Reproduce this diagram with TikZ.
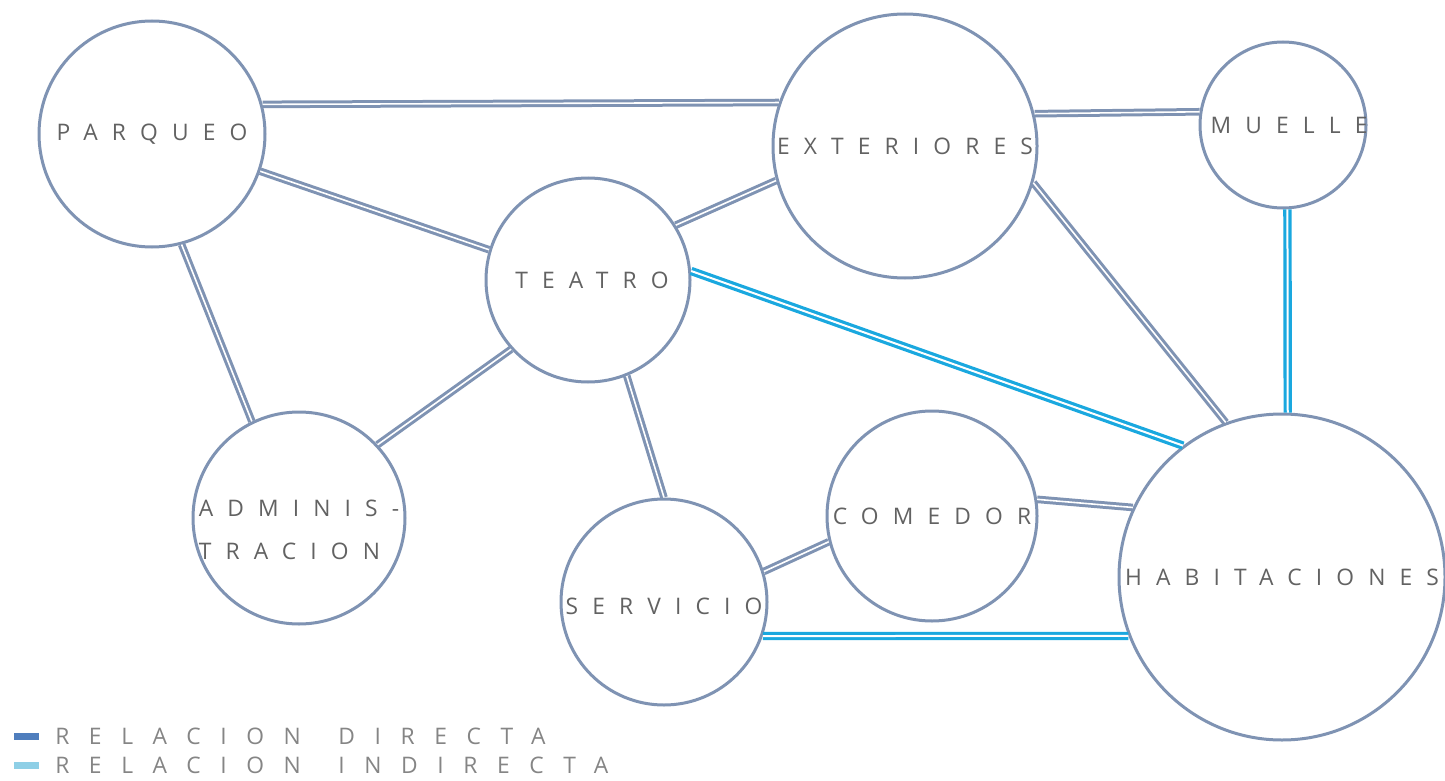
\documentclass[tikz,border=0pt]{standalone}
\usepackage{fontspec}
\setmainfont{Open Sans}
\usepackage{tikz}
\usetikzlibrary{positioning}
\definecolor{ringGrey}{HTML}{7F93B3}
\definecolor{linkCyan}{HTML}{1AA8DF}
\definecolor{labelGrey}{HTML}{626262}
\definecolor{legendGrey}{HTML}{858585}
\definecolor{keyBlue}{HTML}{4F7EBD}
\definecolor{keyCyan}{HTML}{8ECFE6}
\newfontfamily\spaced[LetterSpace=62]{Open Sans}
\newfontfamily\widespaced[LetterSpace=86]{Open Sans}

\begin{document}
\begin{tikzpicture}[
    x=0.5pt,y=-0.5pt,
    zone/.style={circle,draw=ringGrey,line width=1.5pt,fill=white,
      minimum size=#1,inner sep=0pt},
    tag/.style={font=\spaced\fontsize{11.4}{21.5}\selectfont,text=labelGrey,inner sep=0pt},
    direct/.style={draw=ringGrey,line width=1.5pt,double=white,double distance=0.8pt},
    indirect/.style={draw=linkCyan,line width=1.6pt,double=white,double distance=1pt},
    keybar/.style={minimum width=12.5pt,minimum height=3.5pt,inner sep=0pt},
    keytext/.style={font=\widespaced\fontsize{11.4}{13}\selectfont,text=legendGrey,inner sep=0pt}
  ]
    \useasboundingbox (0,0) rectangle (1445,781);

    % zonas
    \node[zone=113pt,label={[tag]center:PARQUEO}] (parqueo) at (152,134) {};
    \node[zone=132pt,label={[tag]center:EXTERIORES}] (exteriores) at (905,146) {};
    \node[zone=83pt,label={[tag,xshift=3pt]center:MUELLE}] (muelle) at (1283,125) {};
    \node[zone=102pt,label={[tag,xshift=2pt]center:TEATRO}] (teatro) at (588,280) {};
    \node[zone=106pt,label={[tag,align=left,yshift=-6pt]center:ADMINIS-\\TRACION}] (admin) at (299,518) {};
    \node[zone=105pt,label={[tag]center:COMEDOR}] (comedor) at (932,516) {};
    \node[zone=103pt,label={[tag,yshift=-2pt]center:SERVICIO}] (servicio) at (664,602) {};
    \node[zone=163pt,label={[tag]center:HABITACIONES}] (habitaciones) at (1282,577) {};

    % relaciones directas
    \draw[direct] (parqueo.15.1)--(exteriores.161.4);
    \draw[direct] (parqueo.-19.7)--(teatro.163.5);
    \draw[direct] (teatro.32.4)--(exteriores.195);
    \draw[direct] (exteriores.14.5)--(muelle.171.7);
    \draw[direct] (exteriores.-16.1)--(habitaciones.110);
    \draw[direct] (parqueo.-75.6)--(admin.116.3);
    \draw[direct] (teatro.222.2)--(admin.43.5);
    \draw[direct] (teatro.-68.8)--(servicio.90.6);
    \draw[direct] (comedor.9.7)--(habitaciones.155.2);
    \draw[direct] (servicio.17.9)--(comedor.194.6);

    % relaciones indirectas
    \draw[indirect] (muelle.273.5)--(habitaciones.88);
    \draw[indirect] (teatro.5.6)--(habitaciones.127.7);
    \draw[indirect] (servicio.-19.9)--(habitaciones.201.6);

    % leyenda
    \node[keybar,fill=keyBlue] (dirbar) at (26,736.5) {};
    \node[keytext,right=8pt of dirbar] (dirtext) {RELACION\hspace{6pt} DIRECTA};
    \node[keybar,fill=keyCyan] (indbar) at (26,765) {};
    \node[keytext,right=8pt of indbar] (indtext) {RELACION\hspace{6pt} INDIRECTA};
  \end{tikzpicture}
\end{document}
